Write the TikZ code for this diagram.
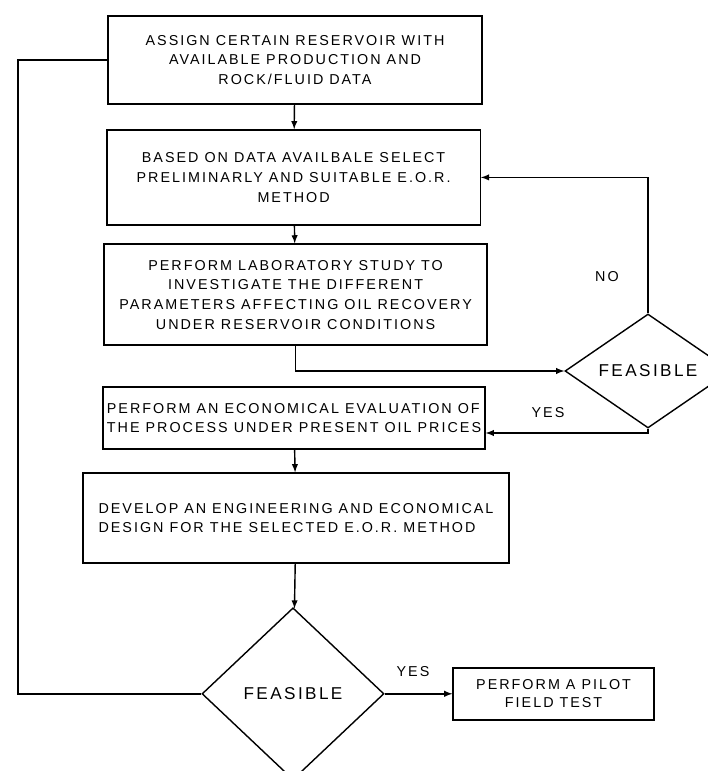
\documentclass[tikz,border=0pt]{standalone}
\usepackage{fontspec}
\setmainfont{Liberation Sans}[LetterSpace=14]
\usetikzlibrary{shapes.geometric}

\begin{document}
\begin{tikzpicture}[>=latex, line width=1pt]
				\tikzstyle{stage}=[draw,shape=rectangle,align=center,inner sep=2pt,font=\fontsize{10.2}{14}\selectfont]
				\tikzstyle{check}=[draw,shape=diamond,inner sep=0pt,font=\fontsize{12.2}{15}\selectfont]
				\tikzstyle{answer}=[font=\fontsize{10.2}{12}\selectfont]
				
				\useasboundingbox (0,0) rectangle (17.7,19.275);
				
				\node[stage,minimum width=9.35cm,minimum height=2.2cm](assign) at (7.375,17.775){ASSIGN CERTAIN RESERVOIR WITH\\AVAILABLE PRODUCTION AND\\ROCK/FLUID DATA};
				\node[stage,minimum width=9.33cm,minimum height=2.375cm](select) at (7.34,14.84){BASED ON DATA AVAILBALE SELECT\\PRELIMINARLY AND SUITABLE E.O.R.\\METHOD};
				\node[stage,minimum width=9.575cm,minimum height=2.525cm](lab) at (7.39,11.91){PERFORM LABORATORY STUDY TO\\INVESTIGATE THE DIFFERENT\\PARAMETERS AFFECTING OIL RECOVERY\\UNDER RESERVOIR CONDITIONS};
				\node[stage,align=left,minimum width=9.55cm,minimum height=1.55cm](econ) at (7.35,8.825){PERFORM AN ECONOMICAL EVALUATION OF\\THE PROCESS UNDER PRESENT OIL PRICES};
				\node[stage,align=left,minimum width=10.65cm,minimum height=2.25cm](design) at (7.4,6.325){DEVELOP AN ENGINEERING AND ECONOMICAL\\DESIGN FOR THE SELECTED E.O.R. METHOD};
				\node[stage,minimum width=5.025cm,minimum height=1.3cm,font=\fontsize{10.2}{13}\selectfont](pilot) at (13.84,1.93){PERFORM A PILOT\\FIELD TEST};
				
				\node[check,aspect=1.46,minimum width=4.15cm,minimum height=2.85cm](feas1) at (16.2,10.0){FEASIBLE};
				\node[check,aspect=1.06,minimum width=4.55cm,minimum height=4.3cm](feas2) at (7.325,1.93){FEASIBLE};
				
				\coordinate (back) at (0.45,1.93);
				
				\draw[->] (assign) -- (select);
				\draw[->] (select) -- (lab);
				\draw[->] (lab.south) |- (feas1.west);
				\draw[->] (feas1.north) |- (select.east);
				\draw[->] (feas1.south) |- ([yshift=-0.375cm]econ.east);
				\draw[->] (econ) -- (design);
				\draw[->] (design) -- (feas2);
				\draw[->] (feas2.east) -- (pilot.west);
				\draw (feas2.west) -- (back) |- (assign.west);
				
				\node[answer](no) at (15.175,12.35){NO};
				\node[answer](yes1) at (13.7,8.95){YES};
				\node[answer](yes2) at (10.325,2.475){YES};
				\end{tikzpicture}
\end{document}
